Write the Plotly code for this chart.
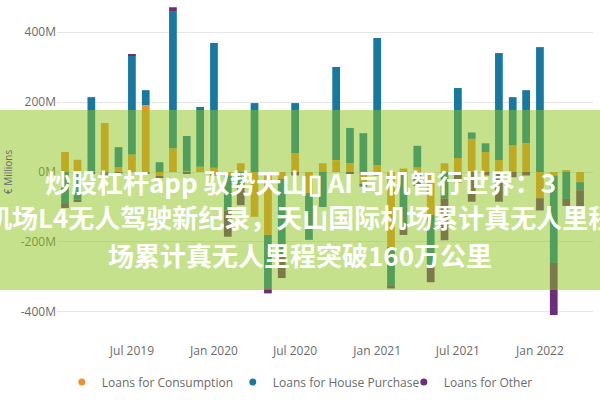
import plotly.graph_objects as go

months = ["2019-02", "2019-03", "2019-04", "2019-05", "2019-06", "2019-07", "2019-08",
          "2019-09", "2019-10", "2019-11", "2019-12", "2020-01", "2020-02", "2020-03",
          "2020-04", "2020-05", "2020-06", "2020-07", "2020-08", "2020-09", "2020-10",
          "2020-11", "2020-12", "2021-01", "2021-02", "2021-03", "2021-04", "2021-05",
          "2021-06", "2021-07", "2021-08", "2021-09", "2021-10", "2021-11", "2021-12",
          "2022-01", "2022-02", "2022-03", "2022-04"]

# € millions
consumption = [57, 35, 2, 140, 14, 50, 191, -12, 68, 3, 15, 12, -10, 25, -128, -180, -20,
               54, -60, 25, 34, 25, -37, 20, -214, 10, 13, -123, 25, 40, 95, 57, 34, 77,
               83, -75, -10, 5, -29]
house_purchase = [-89, -78, 212, -6, 57, 284, 43, 28, 390, 100, 171, 357, -100, -35, 197,
                  -152, -217, 143, -134, -100, 266, 101, 111, 363, -114, -160, 62, -143,
                  -75, 200, 18, 25, 306, 137, 151, 357, -250, -77, -23]
other = [-14, -8, -4, -3, -3, 2, -5, -4, 13, -5, 0, -10, -75, -60, 0, -15, -66, -10, 0, 0,
         0, -5, -5, -10, -5, -20, -40, -49, -120, -30, -85, -10, -85, -15, -10, -35, -149,
         -20, -49]

series_names = ["Loans for Consumption", "Loans for House Purchase", "Loans for Other"]
colors = ["#F0902C", "#17799F", "#6B2F7A"]

y_tickvals = [-400, -200, 0, 200, 400]
y_ticktext = ["-400M", "-200M", "0M", "200M", "400M"]

banner_lines = ["炒股杠杆app 驭势天山\u25af AI 司机智行世界：3",
                "机场L4无人驾驶新纪录，天山国际机场累计真无人里程",
                "场累计真无人里程突破160万公里"]

fig = go.Figure()
for name, vals, col in zip(series_names, [consumption, house_purchase, other], colors):
    fig.add_trace(go.Bar(x=months, y=vals, name=name, marker_color=col,
                         marker_line_width=0, showlegend=False))
# legend entries drawn as dots
for name, col in zip(series_names, colors):
    fig.add_trace(go.Scatter(x=[None], y=[None], mode="markers", name=name,
                             marker=dict(color=col, size=7, symbol="circle")))

fig.update_layout(
    width=600, height=400,
    barmode="relative", bargap=0.38,
    paper_bgcolor="white", plot_bgcolor="white",
    margin=dict(l=57, r=7, t=2, b=58, autoexpand=False),
    font=dict(family="Open Sans", size=12, color="#6b6b6b"),
    legend=dict(orientation="h", x=0.009, xanchor="left", y=-0.118, yanchor="middle",
                font=dict(size=12, color="#6b6b6b"), itemwidth=30,
                entrywidth=126, entrywidthmode="pixels"),
    xaxis=dict(type="date", range=["2019-01-14", "2022-04-30"], tickformat="%b %Y",
               dtick="M6", tick0="2019-01-01", showgrid=False, showline=False,
               ticks="", zeroline=False, automargin=False),
    yaxis=dict(range=[-486, 486], tickvals=y_tickvals, ticktext=y_ticktext,
               showgrid=True, gridcolor="#e6e6e6", gridwidth=1, zeroline=True,
               zerolinecolor="#e6e6e6", zerolinewidth=1, showline=False, ticks="",
               automargin=False,
               title=dict(text="€ Millions", font=dict(size=10, color="#6b6b6b"),
                          standoff=6)),
)

# translucent green banner across the chart
fig.add_shape(type="rect", xref="paper", yref="paper", x0=-0.11, x1=1.02,
              y0=0.153, y1=0.682, fillcolor="rgb(141,195,25)", opacity=0.5,
              line_width=0, layer="above")

for txt, yy in zip(banner_lines, [0.4706, 0.368, 0.2559]):
    fig.add_annotation(text="<b>" + txt + "</b>", xref="paper", yref="paper",
                       x=0.4534, y=yy, xanchor="center", yanchor="middle",
                       showarrow=False,
                       font=dict(family="Noto Sans CJK SC", size=26, color="white"))

fig.write_html("out.html", config={"displayModeBar": False},
               post_script="document.body.style.margin='0';document.body.style.padding='0';")
